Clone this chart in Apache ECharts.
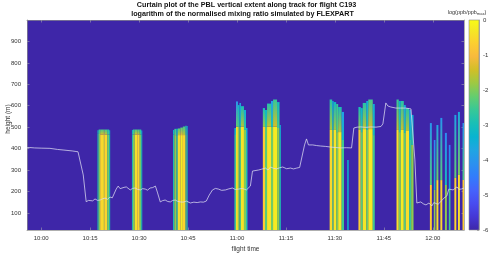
<!DOCTYPE html>
<html><head><meta charset="utf-8">
<script src="https://cdn.jsdelivr.net/npm/echarts@6/dist/echarts.min.js"></script>
<style>html,body{margin:0;padding:0;background:#fff}#c{width:500px;height:254px}</style>
</head><body><div id="c"></div>
<script>
// ---- data ----
// x values: minutes after 10:00
const tickMinutes = [0, 15, 30, 45, 60, 75, 90, 105, 120];
const tickLabels = ['10:00', '10:15', '10:30', '10:45', '11:00', '11:15', '11:30', '11:45', '12:00'];
const heightTicks = [100, 200, 300, 400, 500, 600, 700, 800, 900];
const colorTicks = [-6, -5, -4, -3, -2, -1, 0];

// stripes: [startMin, endMin, topHeight, coreTopHeight, coreValue, topValue]
const column1015 = [
  [17.26, 17.62, 486, 470, -2.9, -3.3],
  [17.62, 18.08, 489, 468, -2.0, -2.6],
  [18.08, 19.00, 489, 466, -0.55, -2.4],
  [19.00, 19.47, 489, 466, -0.25, -2.3],
  [19.47, 20.23, 489, 466, -0.6, -2.5],
  [20.23, 20.84, 489, 466, -2.1, -2.8],
  [20.84, 21.15, 485, 466, -2.9, -3.4]
];
const column1030 = [
  [27.82, 28.12, 487, 466, -2.9, -3.3],
  [28.12, 28.68, 489, 466, -2.0, -2.6],
  [28.68, 29.44, 489, 466, -0.45, -2.4],
  [29.44, 30.21, 489, 466, -0.6, -2.5],
  [30.21, 30.67, 489, 466, -2.1, -2.8],
  [30.67, 30.98, 484, 466, -2.9, -3.4]
];
const column1045 = [
  [40.41, 40.81, 487, 466, -2.9, -3.3],
  [40.81, 41.42, 492, 463, -1.9, -2.6],
  [41.42, 41.88, 492, 459, -2.5, -3.2],
  [41.88, 42.65, 494, 463, -0.5, -2.4],
  [42.65, 43.42, 498, 463, -0.25, -2.3],
  [43.42, 44.18, 503, 463, -0.6, -2.5],
  [44.18, 44.58, 506, 463, -2.1, -2.8],
  [44.58, 44.89, 505, 463, -2.9, -3.4]
];
const column1100 = [
  [59.22, 59.69, 496, 463, -2.5, -3.2],
  [59.69, 60.30, 620, 502, -0.45, -4.0],
  [60.30, 60.76, 603, 501, -1.9, -3.2],
  [60.76, 61.22, 613, 502, -2.4, -3.7],
  [61.22, 62.14, 598, 502, -0.35, -3.0],
  [62.14, 62.76, 580, 487, -2.0, -3.5],
  [62.76, 63.22, 496, 440, -2.8, -3.5]
];
const column1108 = [
  [67.92, 68.59, 589, 501, -0.7, -3.0],
  [68.59, 69.21, 580, 501, -2.3, -3.2],
  [69.21, 70.43, 610, 502, -0.35, -2.8],
  [70.43, 71.05, 622, 501, -2.1, -3.8],
  [71.05, 72.28, 629, 502, -0.25, -2.6],
  [72.28, 73.04, 617, 496, -1.9, -3.0],
  [73.04, 73.44, 510, 440, -2.9, -3.5]
];
const column1130 = [
  [88.39, 89.16, 629, 487, -0.55, -2.8],
  [89.16, 89.62, 622, 487, -2.2, -3.5],
  [89.62, 90.39, 617, 487, -0.35, -3.2],
  [90.39, 91.00, 608, 477, -2.0, -2.6],
  [91.00, 92.08, 594, 477, -0.25, -3.0],
  [92.08, 92.79, 571, 440, -2.5, -3.8],
  [93.77, 94.23, 347, 347, -3.3, -3.3]
];
const column1138 = [
  [97.21, 97.92, 594, 487, -0.7, -3.0],
  [97.92, 98.53, 589, 477, -2.3, -3.3],
  [98.53, 99.60, 613, 491, -0.35, -2.8],
  [99.60, 100.22, 622, 487, -2.1, -3.5],
  [100.22, 101.60, 629, 491, -0.25, -2.5],
  [101.60, 102.21, 608, 463, -2.5, -3.5]
];
const column1150 = [
  [108.87, 109.57, 629, 487, -0.45, -2.6],
  [109.57, 110.19, 622, 477, -2.1, -3.3],
  [110.19, 111.11, 622, 487, -0.25, -2.8],
  [111.11, 111.72, 603, 473, -2.3, -3.6],
  [111.72, 112.74, 589, 482, -0.45, -2.8],
  [112.74, 113.36, 580, 440, -2.6, -3.8],
  [113.36, 114.09, 557, 417, -1.9, -3.5]
];
const column1200 = [
  [119.1, 119.7, 519, 230, -0.7, -4.0],
  [120.3, 120.8, 440, 207, -1.9, -4.2],
  [121.1, 121.7, 510, 253, -0.45, -3.8],
  [122.3, 122.9, 543, 253, -0.6, -4.0],
  [123.7, 124.3, 473, 230, -1.9, -4.2],
  [124.9, 125.4, 417, 207, -2.5, -4.3],
  [126.6, 127.2, 557, 263, -0.6, -3.8],
  [127.7, 128.3, 571, 277, -0.45, -3.6],
  [129.1, 129.7, 519, 253, -0.7, -4.0]
];

// PBL height along track
const pblTime = [-4.33,-4.0,-3.6,-2,0,2.7,5,7,9.5,11.3,11.9,12.9,13.8,14.5,15,15.8,16.5,17.3,18.1,18.9,19.6,20.3,21.1,21.8,22.4,23.0,23.6,24.2,24.8,25.4,26.1,26.7,27.3,28.0,28.8,29.5,30.4,31.1,31.9,32.6,33.4,34.2,35.0,35.6,36.5,37.2,38.0,38.8,39.6,40.3,41.1,41.8,42.6,43.5,44.5,45.7,46.8,47.8,48.8,49.7,50.6,51.5,52.5,53.4,54.3,55.3,56.5,57.5,58.6,59.5,60.5,61.6,62.9,64.1,64.75,65.3,66.6,67.6,68.7,69.5,70.3,71.2,72.1,73.0,74.0,75.2,76.4,77.3,78.3,79.2,79.8,80.7,81.3,81.9,82.5,83.2,84.4,85.6,87.2,88.7,90.2,91.8,93.5,95.1,95.8,96.8,97.9,99.5,101.0,102.6,104.1,104.7,105.3,105.6,106.2,107.1,108.7,110.2,111.7,113.3,113.9,114.5,115.1,115.7,116.3,117.1,117.9,118.8,119.7,120.3,120.9,121.6,122.2,122.8,123.4,124.3,124.9,125.5,126.2,126.8,127.4,128.0,128.7,129.55];
const pblHeight = [404,412,405,403,402,401,396,393,389,385,384,277,152,158,160,156,165,158,160,166,169,163,174,170,179,211,225,213,211,219,221,212,207,214,216,210,207,213,211,206,216,218,225,197,151,157,160,153,151,158,160,154,151,150,155,146,150,148,151,150,155,183,207,214,211,205,207,212,216,209,211,214,207,225,295,302,300,304,309,300,314,308,305,310,314,306,309,305,309,312,319,417,445,417,420,417,414,412,410,407,405,403,404,403,496,500,501,499,501,500,503,515,580,613,599,594,589,589,589,585,580,347,146,153,151,142,137,146,132,148,151,140,146,158,169,179,211,204,207,216,221,210,211,216];

// ---- styling / helpers ----
const X_MIN = -4.33, X_MAX = 129.55, Y_MIN = 20, Y_MAX = 1000, V_MIN = -6, V_MAX = 0;
const FONT = "'Liberation Sans', Arial, Helvetica, sans-serif";
const PAL = ['#3e26a8','#4537d5','#484cf0','#4563fc','#327cfc','#2b91ef','#20a5e2','#08b4d0','#19bfb6','#37c897','#64cd6f','#9dc943','#d1bf27','#f8ba3d','#fccf30','#f5e924','#f9fb15'];
const PALPOS = [0,4,8,12,16,20,24,28,32,36,40,44,48,52,56,60,63].map(function(i){return i/63;});
function hex2rgb(h){return [parseInt(h.substr(1,2),16),parseInt(h.substr(3,2),16),parseInt(h.substr(5,2),16)];}
function parula(v){
  let t = (v - V_MIN) / (V_MAX - V_MIN);
  t = Math.max(0, Math.min(1, t));
  let i = 0;
  while (i < PALPOS.length - 2 && t > PALPOS[i+1]) i++;
  const f = (t - PALPOS[i]) / (PALPOS[i+1] - PALPOS[i]);
  const a = hex2rgb(PAL[i]), b = hex2rgb(PAL[i+1]);
  const c = a.map(function(x,k){return Math.round(x + (b[k]-x)*f);});
  return 'rgb(' + c.join(',') + ')';
}

const stripes = [].concat(column1015, column1030, column1045, column1100, column1108, column1130, column1138, column1150, column1200);
const pblData = pblTime.map(function(t,i){return [t, pblHeight[i]];});

const axisColor = '#8c8c8c';
const labelColor = '#333333';

const chart = echarts.init(document.getElementById('c'), null, {renderer: 'canvas'});
chart.setOption({
  animation: false,
  backgroundColor: '#ffffff',
  graphic: [
    {type: 'text', x: 246.5, y: 1.5, style: {text: 'Curtain plot of the PBL vertical extent along track for flight C193', textAlign: 'center', font: 'bold 7.2px ' + FONT, fill: '#111'}},
    {type: 'text', x: 242.5, y: 11, style: {text: 'logarithm of the normalised mixing ratio simulated by FLEXPART', textAlign: 'center', font: 'bold 7.2px ' + FONT, fill: '#111'}},
    {type: 'text', x: 467, y: 9, style: {text: 'log(ppb/ppb{s|max})', textAlign: 'center', fontSize: 5.5, fontFamily: FONT, fill: '#333', rich: {s: {fontSize: 4, fontFamily: FONT, fill: '#333', padding: [3,0,0,0]}}}},
    {type: 'text', x: 8.5, y: 119, rotation: Math.PI / 2, style: {text: 'height (m)', textAlign: 'center', textVerticalAlign: 'middle', fontSize: 6.5, fontFamily: FONT, fill: labelColor}}
  ],
  grid: [
    {left: 27, top: 20, width: 437, height: 210, show: true, backgroundColor: '#3e26a8', borderWidth: 0, containLabel: false, outerBoundsMode: 'none'},
    {left: 469, top: 20, width: 10, height: 210, show: false, containLabel: false, outerBoundsMode: 'none'}
  ],
  xAxis: [
    {gridIndex: 0, type: 'value', min: X_MIN, max: X_MAX, position: 'bottom',
     name: 'flight time', nameLocation: 'middle', nameGap: 10,
     nameTextStyle: {fontSize: 6.5, color: labelColor, fontFamily: FONT},
     axisLine: {show: true, onZero: false, lineStyle: {color: axisColor, width: 0.7}},
     axisTick: {show: true, inside: true, length: 2.5, customValues: tickMinutes, lineStyle: {color: '#a0a0b0', width: 0.6}},
     axisLabel: {customValues: tickMinutes, fontSize: 6, color: labelColor, fontFamily: FONT, margin: 5,
       formatter: function(v){const k = tickMinutes.indexOf(Math.round(v)); return k >= 0 ? tickLabels[k] : '';}},
     splitLine: {show: false}},
    {gridIndex: 0, type: 'value', min: X_MIN, max: X_MAX, position: 'top',
     axisLine: {show: true, onZero: false, lineStyle: {color: axisColor, width: 0.7}},
     axisTick: {show: true, inside: true, length: 2.5, customValues: tickMinutes, lineStyle: {color: '#a0a0b0', width: 0.6}},
     axisLabel: {show: false}, splitLine: {show: false}},
    {gridIndex: 1, type: 'value', min: 0, max: 1, show: false}
  ],
  yAxis: [
    {gridIndex: 0, type: 'value', min: Y_MIN, max: Y_MAX, position: 'left',
     axisLine: {show: true, onZero: false, lineStyle: {color: axisColor, width: 0.7}},
     axisTick: {show: true, inside: true, length: 2.5, customValues: heightTicks, lineStyle: {color: '#a0a0b0', width: 0.6}},
     axisLabel: {customValues: heightTicks, fontSize: 6, color: labelColor, fontFamily: FONT, margin: 6},
     splitLine: {show: false}},
    {gridIndex: 0, type: 'value', min: Y_MIN, max: Y_MAX, position: 'right',
     axisLine: {show: true, onZero: false, lineStyle: {color: axisColor, width: 0.7}},
     axisTick: {show: true, inside: true, length: 2.5, customValues: heightTicks, lineStyle: {color: '#a0a0b0', width: 0.6}},
     axisLabel: {show: false}, splitLine: {show: false}},
    {gridIndex: 1, type: 'value', min: V_MIN, max: V_MAX, interval: 1, position: 'right',
     axisLine: {show: true, onZero: false, lineStyle: {color: axisColor, width: 0.7}},
     axisTick: {show: true, inside: true, length: 2, lineStyle: {color: '#808080', width: 0.6}},
     axisLabel: {fontSize: 6, color: labelColor, fontFamily: FONT, margin: 4},
     splitLine: {show: false}}
  ],
  series: [
    {type: 'custom', xAxisIndex: 0, yAxisIndex: 0, clip: true, z: 2,
     encode: {x: [0, 1], y: [2, 3]},
     data: stripes,
     renderItem: function(params, api){
       const t0 = api.value(0), t1 = Math.min(api.value(1), X_MAX);
       const top = api.value(2), core = api.value(3), vc = api.value(4), vt = api.value(5);
       const pB = api.coord([t0, Y_MIN]);
       const pC = api.coord([t1, core]);
       const pT = api.coord([t0, top]);
       const w = pC[0] - pB[0];
       const children = [{type: 'rect', shape: {x: pB[0], y: pC[1], width: w, height: pB[1] - pC[1]}, style: {fill: parula(vc)}}];
       if (pC[1] - pT[1] > 0.1) {
         children.push({type: 'rect', shape: {x: pB[0], y: pT[1], width: w, height: pC[1] - pT[1]},
           style: {fill: new echarts.graphic.LinearGradient(0, 0, 0, 1, [
             {offset: 0, color: parula(vt)}, {offset: 1, color: parula((vc + vt) / 2)}])}});
       }
       return {type: 'group', children: children};
     }},
    {type: 'line', xAxisIndex: 0, yAxisIndex: 0, z: 5, data: pblData, showSymbol: false, symbol: 'none',
     lineStyle: {color: '#dcdcf0', width: 0.75}, silent: true},
    {type: 'custom', xAxisIndex: 2, yAxisIndex: 2, z: 2,
     data: [[0, V_MIN, 1, V_MAX]],
     renderItem: function(params, api){
       const a = api.coord([api.value(0), api.value(3)]);
       const b = api.coord([api.value(2), api.value(1)]);
       const stops = PAL.map(function(c, i){return {offset: 1 - PALPOS[i], color: c};}).reverse();
       return {type: 'rect', shape: {x: a[0], y: a[1], width: b[0] - a[0], height: b[1] - a[1]},
         style: {fill: new echarts.graphic.LinearGradient(0, 0, 0, 1, stops), stroke: axisColor, lineWidth: 0.6}};
     }}
  ]
});
</script>
</body></html>
